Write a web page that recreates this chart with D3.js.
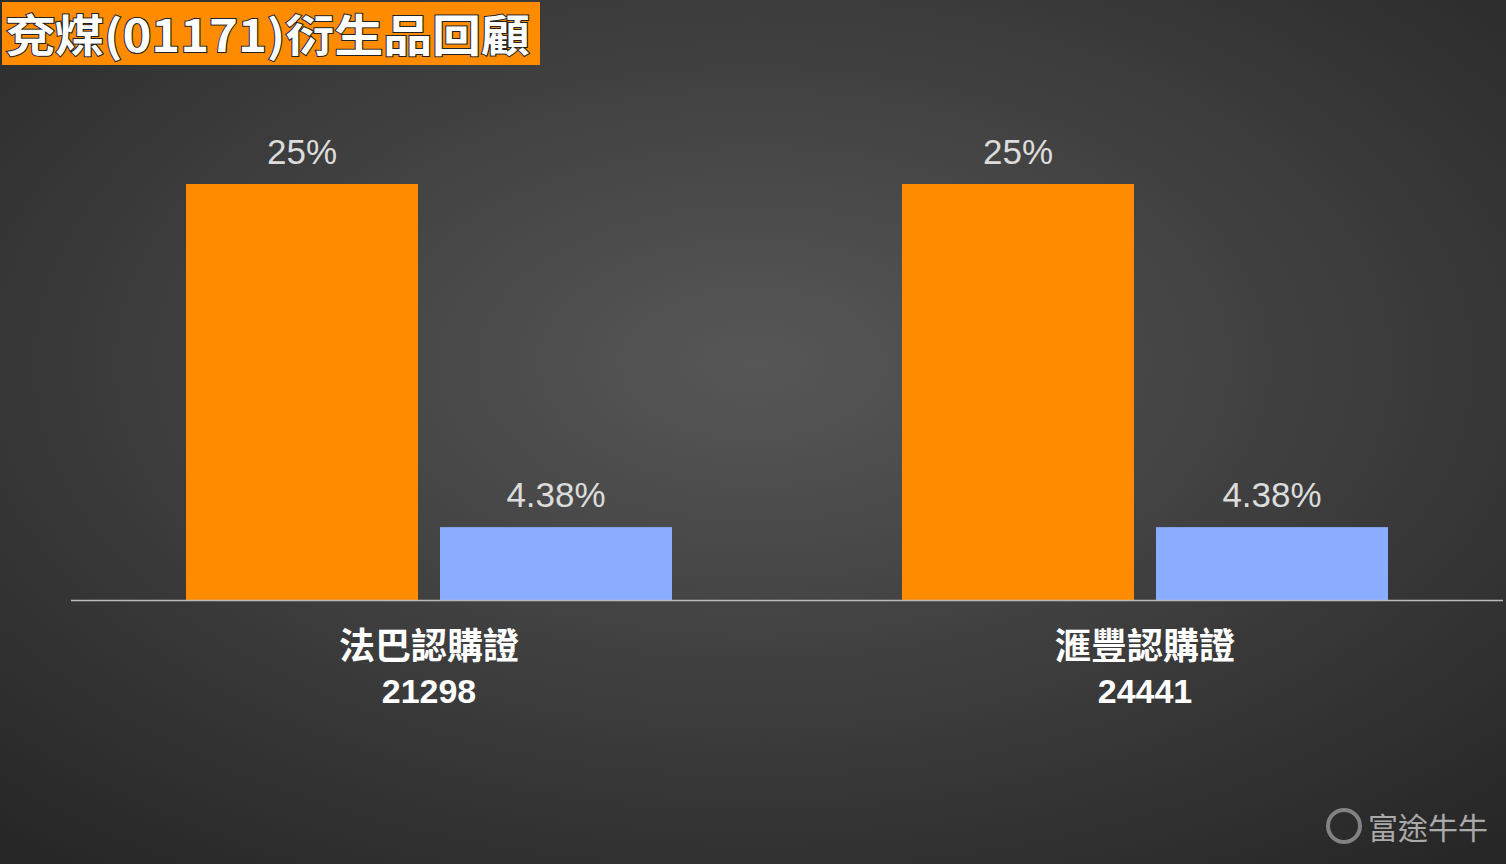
<!DOCTYPE html>
<html><head><meta charset="utf-8">
<script src="https://cdn.jsdelivr.net/npm/d3@7"></script>
<style>body{margin:0;overflow:hidden}</style>
</head><body>
<svg id="c" width="1506" height="864"></svg>
<script>
const categories = ["法巴認購證", "滙豐認購證"];
const codes = ["21298", "24441"];
const seriesNames = ["a", "b"];
const seriesA = [25, 25];
const seriesB = [4.38, 4.38];
const valueLabels = [["25%", "4.38%"], ["25%", "4.38%"]];
const colors = ["#FF8C00", "#8AADFF"];

const svg = d3.select("#c");
const defs = svg.append("defs");
const g = defs.append("radialGradient").attr("id","bg").attr("cx","50%").attr("cy","42%").attr("r","75%");
g.append("stop").attr("offset","0%").attr("stop-color","#575757");
g.append("stop").attr("offset","100%").attr("stop-color","#262626");
svg.append("rect").attr("width",1506).attr("height",864).attr("fill","url(#bg)");

const font = "'Noto Sans CJK TC','Noto Sans',sans-serif";
const x0 = d3.scaleBand().domain(categories).range([71, 1503]).padding(0);
const p = 22/254;
const step = 486/(2-p);
const x1 = d3.scaleBand().domain(seriesNames).range([115, 115 + step*2 - step*p]).paddingInner(p).paddingOuter(0);
const y = d3.scaleLinear().domain([0, 25]).range([600, 184]);

categories.forEach((c, i) => {
  const vals = [seriesA[i], seriesB[i]];
  const gr = svg.append("g").attr("transform", `translate(${x0(c)},0)`);
  seriesNames.forEach((s, j) => {
    gr.append("rect").attr("x", x1(s)).attr("width", x1.bandwidth())
      .attr("y", y(vals[j])).attr("height", 600 - y(vals[j])).attr("fill", colors[j]);
    gr.append("text").attr("x", x1(s) + x1.bandwidth()/2).attr("y", y(vals[j]) - 20)
      .attr("text-anchor","middle").attr("fill","#dcdcdc").attr("font-size",35)
      .attr("font-family","Helvetica, 'Liberation Sans', Arial, sans-serif").text(valueLabels[i][j]);
  });
  const cx = x0(c) + x0.bandwidth()/2;
  svg.append("text").attr("x", cx).attr("y", 659).attr("text-anchor","middle").attr("fill","#fff")
    .attr("font-size",36).attr("font-weight","bold").attr("font-family",font).text(c);
  svg.append("text").attr("x", cx).attr("y", 703).attr("text-anchor","middle").attr("fill","#fff")
    .attr("font-size",34).attr("font-weight","bold").attr("font-family","'Liberation Sans', Arial, sans-serif").text(codes[i]);
});
svg.append("line").attr("x1",71).attr("x2",1503).attr("y1",600.5).attr("y2",600.5).attr("stroke","#bbb").attr("stroke-width",1.5);

svg.append("rect").attr("x",2).attr("y",2).attr("width",538).attr("height",63).attr("fill","#FF8C00");
svg.append("text").attr("x",6).attr("y",52).attr("fill","#fff").attr("stroke","#222").attr("stroke-width",2)
  .attr("paint-order","stroke").attr("font-size",44).attr("font-weight","bold").attr("font-family",font)
  .attr("textLength",524).attr("lengthAdjust","spacingAndGlyphs")
  .text("兗煤(01171)衍生品回顧");

svg.append("circle").attr("cx",1344).attr("cy",826).attr("r",16).attr("fill","none").attr("stroke","#999").attr("stroke-width",4).attr("opacity",0.8);
svg.append("text").attr("x",1368).attr("y",839).attr("fill","#aaa").attr("font-size",30).attr("font-family",font).text("富途牛牛");
</script>
</body></html>
